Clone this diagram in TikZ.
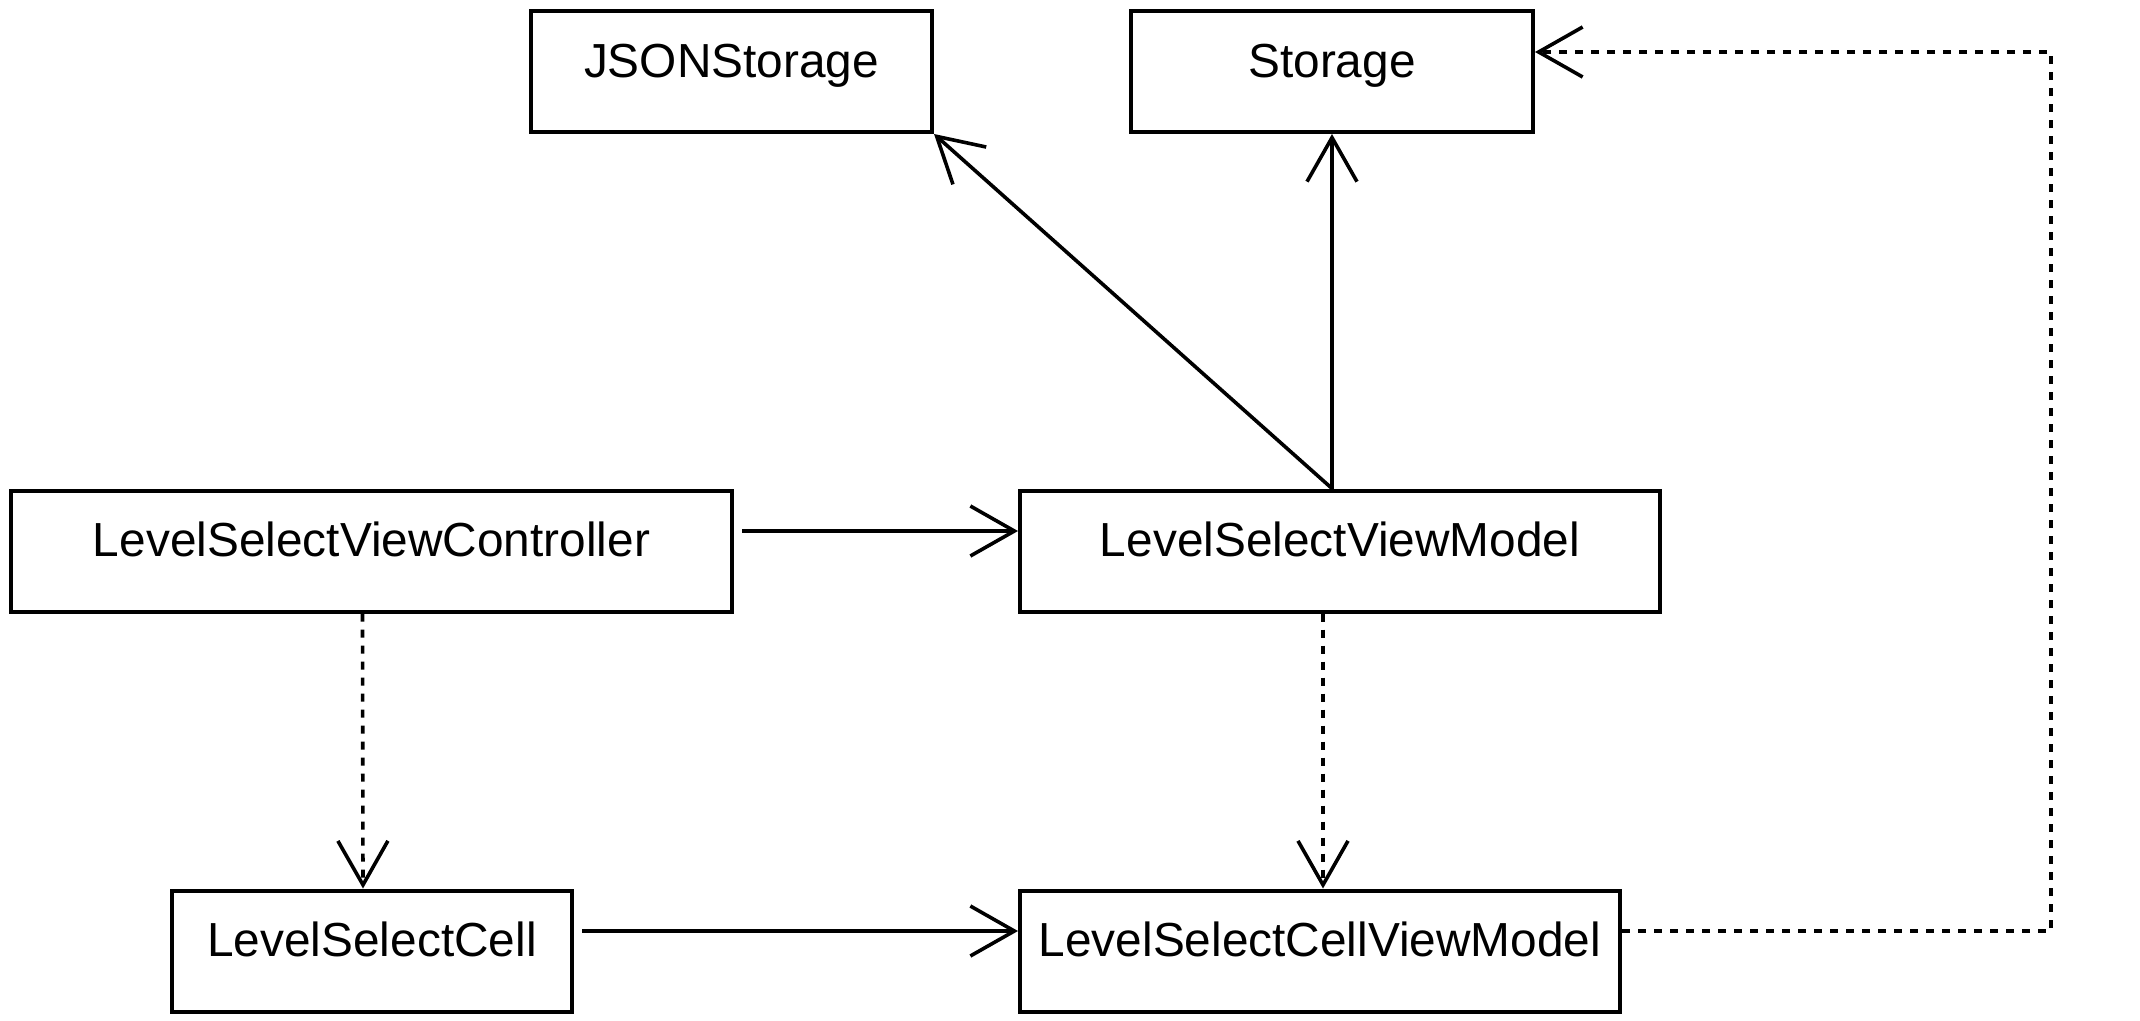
\documentclass[tikz,border=0pt]{standalone}
\usepackage{fontspec}
\setmainfont{Liberation Sans}
\usetikzlibrary{arrows.meta}

\begin{document}
\begin{tikzpicture}[x=1pt, y=-1pt,
  cls/.style={draw, line width=4pt, inner sep=0pt, minimum height=121pt,
    text height=1.3em, text depth=0.164em, font=\fontsize{47.8}{57}\selectfont},
  uses/.style={line width=3.6pt, line join=miter, -{Straight Barb[length=44pt, width=50pt]}},
  dep/.style={uses, dash pattern=on 8pt off 8pt}]
  \useasboundingbox (0,0) rectangle (2140,1020);
  \node[cls, minimum width=401pt] (json) at (731.5, 71.5) {JSONStorage};
  \node[cls, minimum width=402pt] (storage) at (1332, 71.5) {Storage};
  \node[cls, minimum width=721pt] (lsvc) at (371.5, 551) {LevelSelectViewController};
  \node[cls, minimum width=640pt] (lsvm) at (1340, 551) {LevelSelectViewModel};
  \node[cls, minimum width=400pt] (lsc) at (372, 951) {LevelSelectCell};
  \node[cls, minimum width=600pt] (lscvm) at (1320, 951) {LevelSelectCellViewModel};
  \coordinate (corner) at (2051, 52);
  \draw[uses, shorten <=8pt] ([yshift=20pt]lsvc.east) -- ([yshift=20pt]lsvm.west);
  \draw[uses, shorten <=8pt] ([yshift=20pt]lsc.east) -- ([yshift=20pt]lscvm.west);
  \draw[uses] (storage.south |- lsvm.north) coordinate (vmtop) -- (storage.south);
  \draw[uses] (vmtop) -- (json.south east);
  \draw[dep] ([xshift=-9pt]lsvc.south) -- ([xshift=-9pt]lsc.north);
  \draw[dep] ([xshift=3pt]lscvm.north |- lsvm.south) -- ([xshift=3pt]lscvm.north);
  \draw[dep] ([yshift=20pt]lscvm.east) -| (corner) -- ([yshift=19.5pt]storage.east);
\end{tikzpicture}
\end{document}
